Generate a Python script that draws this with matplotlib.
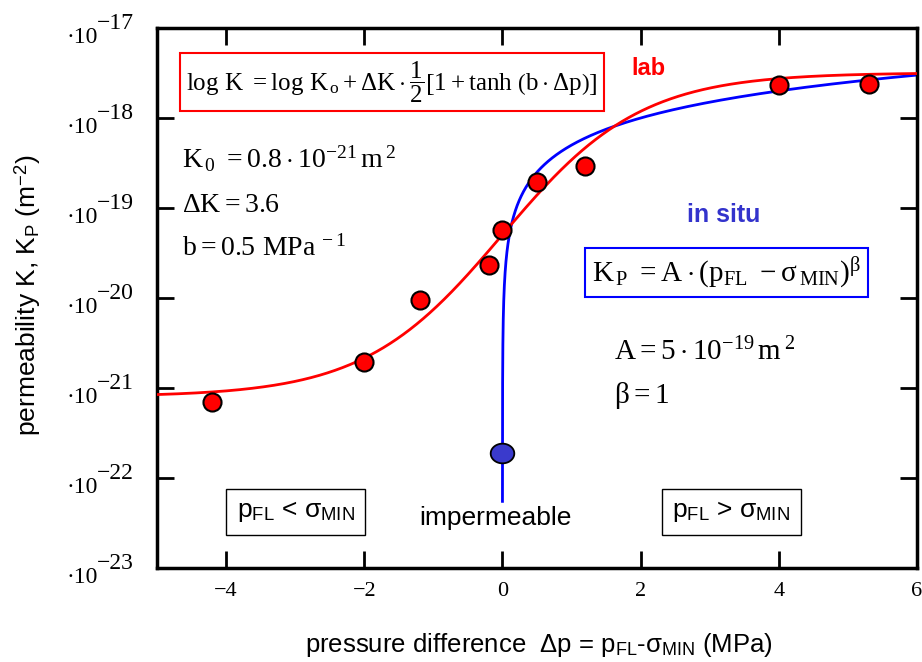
import numpy as np
import matplotlib
matplotlib.use("Agg")
import matplotlib.pyplot as plt
import matplotlib.transforms as mtransforms
from matplotlib.path import Path

plt.rcParams["font.family"] = ["Liberation Sans", "DejaVu Sans"]
plt.rcParams["mathtext.fontset"] = "custom"
plt.rcParams["mathtext.rm"] = "Liberation Serif"
plt.rcParams["mathtext.it"] = "Liberation Serif"
plt.rcParams["mathtext.bf"] = "Liberation Serif:bold"
plt.rcParams["mathtext.sf"] = "Liberation Sans"

# lab measurements
dp_lab = [-4.2, -2.0, -1.2, -0.2, 0.0, 0.5, 1.2, 4.0, 5.3]
k_lab = [7.0e-22, 1.95e-21, 9.5e-21, 2.3e-20, 5.7e-20, 1.95e-19, 2.9e-19, 2.3e-18, 2.4e-18]

# in situ point (impermeable)
dp_situ = [0.0]
k_situ = [1.9e-22]

# lab fit parameters
K0 = 0.8e-21
DK = 3.6
B = 0.5

# in situ law parameters
A = 5e-19
BETA = 1.0

ytick_exp = [-17, -18, -19, -20, -21, -22, -23]
xticks = [-4, -2, 0, 2, 4, 6]
xtick_labels = ["\u22124", "\u22122", "0", "2", "4", "6"]

SERIF = "Liberation Serif"

fig = plt.figure(figsize=(9.22, 6.62), dpi=100)
ax = fig.add_axes([157 / 922, 1 - 568 / 662, 760 / 922, 540 / 662])

# tanh fit (lab)
dp = np.linspace(-5, 6, 800)
logk = np.log10(K0) + DK * 0.5 * (1 + np.tanh(B * dp))
ax.plot(dp, 10 ** logk, color="red", lw=2, zorder=3)

# power law (in situ)
dp_p = np.concatenate([[1.1e-4], np.logspace(-3.5, np.log10(6), 600)])
ax.plot(dp_p, A * dp_p ** BETA, color="blue", lw=2, zorder=2)

ax.plot(dp_lab, k_lab, "o", ms=13, mfc="red", mec="black", mew=1.5, zorder=5)

# slightly flattened marker for the in situ point
t = np.linspace(0, 2 * np.pi, 60)
ell = Path(np.column_stack([1.2 * np.cos(t), np.sin(t)]), closed=True)
ax.plot(dp_situ, k_situ, ls="none", marker=ell, ms=17, mfc="#3a3acc",
        mec="black", mew=1.3, zorder=5)

ax.set_yscale("log")
ax.set_xlim(-5, 6)
ax.set_ylim(1e-23, 1e-17)
ax.set_yticks([10.0 ** e for e in ytick_exp])
ax.set_yticklabels([])
ax.yaxis.set_minor_locator(matplotlib.ticker.NullLocator())
ax.set_xticks(xticks)
ax.set_xticklabels(xtick_labels, fontsize=16, family=SERIF)

for s in ax.spines.values():
    s.set_linewidth(2.5)
ax.tick_params(axis="both", which="major", direction="in", length=12, width=2,
               top=True, right=True)
ax.tick_params(axis="x", pad=10)

# y tick labels: "·10" with a full-size raised exponent
trans = mtransforms.blended_transform_factory(fig.transFigure, ax.transData)
for e in ytick_exp:
    lab = ax.text(98 / 922, 10.0 ** e, "\u00b710", fontsize=17,
                  family=SERIF, ha="right", va="baseline", clip_on=False)
    lab.set_transform(trans + mtransforms.ScaledTranslation(0, -15 / 100, fig.dpi_scale_trans))
    sup = ax.text(97 / 922, 10.0 ** e, "\u2212" + str(-e), fontsize=17,
                  family=SERIF, ha="left", va="baseline", clip_on=False)
    sup.set_transform(trans + mtransforms.ScaledTranslation(0, -1 / 100, fig.dpi_scale_trans))

fig.text(0.425, 0.876,
         r"$\log\,K\ =\log\,K_{\,o}+\Delta K\cdot\dfrac{1}{2}\left[1+\tanh\,\left(b\cdot\Delta p\right)\right]$",
         fontsize=18, ha="center", va="center",
         bbox=dict(boxstyle="square,pad=0.25", fc="white", ec="red", lw=1.5))
fig.text(0.703, 0.897, "lab", color="red", fontsize=17, fontweight="bold",
         ha="center", va="center")

fig.text(0.197, 0.760, r"$K_{\,0}\ =0.8\cdot10^{-21}\,m^{\,2}$", fontsize=20,
         ha="left", va="center")
fig.text(0.197, 0.690, r"$\Delta K=3.6$", fontsize=20, ha="left", va="center")
fig.text(0.197, 0.625, r"$b=0.5\ MPa^{\,-1}$", fontsize=20, ha="left", va="center")

fig.text(0.785, 0.675, "in situ", color="#3333cc", fontsize=18, fontweight="bold",
         ha="center", va="center")
fig.text(0.788, 0.588,
         r"$K_{\,P}\ =A\cdot(p_{FL}\ -\sigma_{\,MIN})^{\beta}$",
         fontsize=21, ha="center", va="center",
         bbox=dict(boxstyle="square,pad=0.25", fc="white", ec="blue", lw=1.5))
fig.text(0.666, 0.468, r"$A=5\cdot10^{-19}\,m^{\,2}$", fontsize=21,
         ha="left", va="center")
fig.text(0.666, 0.403, r"$\beta=1$", fontsize=21, ha="left", va="center")

fig.text(0.321, 0.227, r"p$_\mathsf{FL}$ < σ$_\mathsf{MIN}$", fontsize=19,
         ha="center", va="center",
         bbox=dict(boxstyle="square,pad=0.4", fc="white", ec="black", lw=1))
fig.text(0.537, 0.2175, "impermeable", fontsize=19, ha="center", va="center")
fig.text(0.793, 0.227, r"p$_\mathsf{FL}$ > σ$_\mathsf{MIN}$", fontsize=19,
         ha="center", va="center",
         bbox=dict(boxstyle="square,pad=0.4", fc="white", ec="black", lw=1))

fig.text(0.585, 0.026, r"pressure difference  Δp = p$_\mathsf{FL}$-σ$_\mathsf{MIN}$ (MPa)",
         fontsize=18.5, ha="center", va="center")
fig.text(0.030, 0.554, r"permeability K, K$_\mathsf{P}$ (m$^\mathsf{-2}$)",
         fontsize=19, ha="center", va="center", rotation=90)

fig.savefig("out.png", dpi=100)
